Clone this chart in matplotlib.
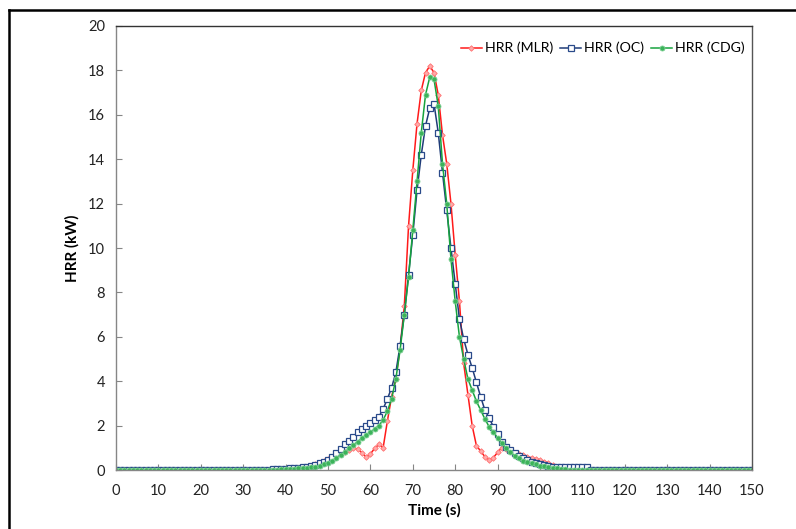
import numpy as np
import matplotlib.pyplot as plt
from matplotlib.lines import Line2D

# Tempo (s), uma amostra por segundo
t = list(range(0, 151))

# HRR (MLR)
hrr_mlr = ([0.0] * 40 +
           [0.05, 0.06, 0.08, 0.10, 0.12, 0.15, 0.20, 0.25, 0.32, 0.40,
            0.48, 0.55, 0.62, 0.70, 0.80, 0.90, 0.98, 0.95, 0.78, 0.58,
            0.72, 0.98, 1.15, 1.00, 2.20, 3.30, 4.10, 5.50, 7.40, 11.0,
            13.5, 15.6, 17.1, 17.9, 18.2, 17.9, 16.9, 15.1, 13.8, 12.0,
            9.7, 7.6, 4.8, 3.4, 2.0, 1.10, 0.85, 0.60, 0.45, 0.55,
            0.80, 1.00, 0.95, 0.85, 0.78, 0.72, 0.66, 0.60, 0.55, 0.50,
            0.45, 0.38, 0.32, 0.22, 0.05, -0.12, -0.05] +
           [-0.02] * 44)

# HRR (OC)
hrr_oc = ([0.0] * 36 +
          [0.02, 0.03, 0.04, 0.05, 0.06, 0.07, 0.08, 0.10, 0.12, 0.15,
           0.18, 0.22, 0.30, 0.38, 0.45, 0.60, 0.75, 0.95, 1.15, 1.30,
           1.50, 1.70, 1.85, 1.98, 2.10, 2.25, 2.40, 2.75, 3.20, 3.70,
           4.40, 5.60, 7.00, 8.80, 10.6, 12.6, 14.2, 15.5, 16.3, 16.5,
           15.2, 13.4, 11.7, 10.0, 8.40, 6.80, 5.90, 5.20, 4.60, 3.95,
           3.30, 2.70, 2.35, 1.95, 1.60, 1.25, 1.05, 0.90, 0.75, 0.62,
           0.52, 0.45, 0.38, 0.32, 0.27, 0.22, 0.18, 0.15, 0.13, 0.12,
           0.12, 0.12, 0.12, 0.12, 0.12, 0.12, 0.02] +
          [0.01] * 38)

# HRR (CDG)
hrr_cdg = ([0.0] * 38 +
           [0.02, 0.03, 0.04, 0.05, 0.06, 0.07, 0.08, 0.10, 0.12, 0.15,
            0.20, 0.26, 0.33, 0.42, 0.55, 0.68, 0.82, 0.97, 1.12, 1.28,
            1.42, 1.58, 1.70, 1.85, 2.00, 2.25, 2.65, 3.20, 4.10, 5.40,
            7.00, 8.70, 10.8, 13.0, 15.2, 16.9, 17.7, 17.6, 16.4, 13.8,
            12.0, 9.50, 7.60, 6.00, 5.00, 4.10, 3.60, 3.10, 2.70, 2.30,
            1.95, 1.70, 1.45, 1.20, 0.98, 0.80, 0.65, 0.52, 0.42, 0.35,
            0.30, 0.25, 0.20, 0.16, 0.12, 0.10, 0.07, 0.05, 0.03] +
           [0.02] * 44)

plt.rcParams['font.family'] = ['Lato', 'DejaVu Sans']

fig = plt.figure(figsize=(7.96, 5.29), dpi=100)
ax = fig.add_axes([116 / 796, 59 / 529, 636 / 796, 444 / 529])

ax.plot(t, hrr_mlr, color='#ff1a1a', linewidth=1.1, marker='D', markersize=2.8,
        markerfacecolor='#ffaaaa', markeredgecolor='#ff7070', markeredgewidth=0.6,
        label='HRR (MLR)')
ax.plot(t, hrr_oc, color='#1f3c78', linewidth=1.1, marker='s', markersize=3.8,
        markerfacecolor='white', markeredgecolor='#2a4a8a', markeredgewidth=0.9,
        label='HRR (OC)')
ax.plot(t, hrr_cdg, color='#17a33e', linewidth=1.1, marker='o', markersize=3.6,
        markerfacecolor='#3cb35a', markeredgecolor='#7ccf93', markeredgewidth=0.6,
        label='HRR (CDG)')

ax.set_xlim(0, 150)
ax.set_ylim(0, 20)
ax.set_xticks(range(0, 151, 10))
ax.set_yticks(range(0, 21, 2))
ax.tick_params(direction='in', length=4, color='#868686', labelsize=10.5,
               labelcolor='#222222', pad=8)
ax.tick_params(axis='x', pad=10)

ax.spines['left'].set_color('#868686')
ax.spines['bottom'].set_color('#868686')
ax.spines['top'].set_color('#333333')
ax.spines['right'].set_color('#555555')
for s in ax.spines.values():
    s.set_linewidth(1.0)

ax.set_xlabel('Time (s)', fontsize=11, fontweight='bold', labelpad=4)
ax.set_ylabel('HRR (kW)', fontsize=11, fontweight='bold', labelpad=6)

ax.legend(loc='center right', bbox_to_anchor=(1.0, 0.95), ncol=3, frameon=False,
          fontsize=10.2, handlelength=1.5, handletextpad=0.2, columnspacing=0.5,
          borderaxespad=0.1)

# moldura exterior
fig.add_artist(Line2D([8.5 / 796, 8.5 / 796], [0, 1 - 10 / 529],
                      transform=fig.transFigure, color='black', linewidth=1.8))
fig.add_artist(Line2D([8.5 / 796, 1], [1 - 10 / 529, 1 - 10 / 529],
                      transform=fig.transFigure, color='black', linewidth=1.8))

fig.savefig('out.png', dpi=100)
